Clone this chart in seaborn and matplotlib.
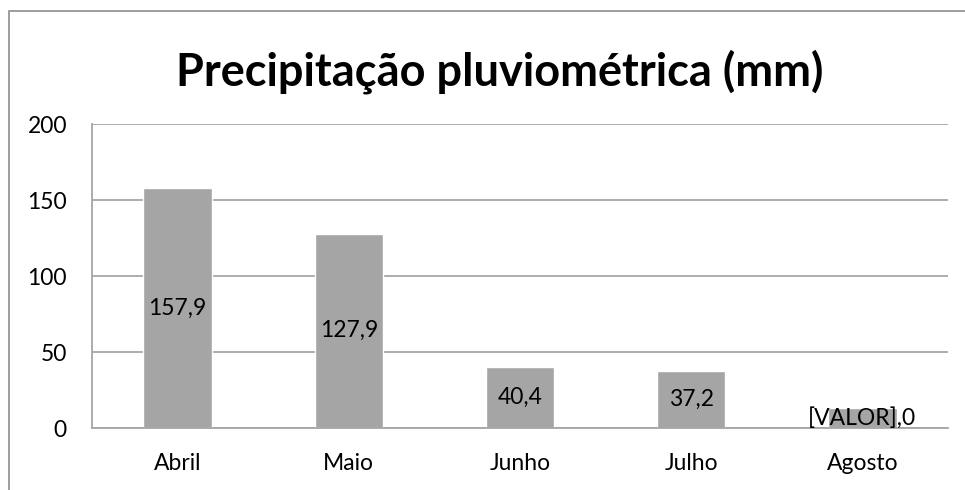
import matplotlib
matplotlib.use('Agg')
import matplotlib.pyplot as plt
import seaborn as sns
import pandas as pd
from matplotlib.patches import Rectangle

# dados
meses = ['Abril', 'Maio', 'Junho', 'Julho', 'Agosto']
precip = [157.9, 127.9, 40.4, 37.2, 13.0]
rotulos = ['157,9', '127,9', '40,4', '37,2', '[VALOR],0']
y_ticks = [0, 50, 100, 150, 200]

df = pd.DataFrame({'mes': meses, 'mm': precip})

sns.set_style('white')
plt.rcParams['font.family'] = ['Lato', 'DejaVu Sans']

fig = plt.figure(figsize=(9.65, 4.9), dpi=100)
ax = fig.add_axes([92 / 965, 1 - 428 / 490, (948 - 92) / 965, (428 - 124) / 490])

sns.barplot(data=df, x='mes', y='mm', color='#a5a5a5', width=0.4,
            saturation=1, ax=ax, zorder=2)

ax.set_ylim(0, 200)
ax.set_yticks(y_ticks)
ax.yaxis.grid(True, color='#a6a6a6', linewidth=1.3, zorder=0)
ax.set_axisbelow(True)
for s in ['top', 'right']:
    ax.spines[s].set_visible(False)
for s in ['left', 'bottom']:
    ax.spines[s].set_color('#a6a6a6')
    ax.spines[s].set_linewidth(1.3)
ax.tick_params(axis='both', length=0, labelsize=16.5, colors='black')
ax.tick_params(axis='y', pad=18)
ax.tick_params(axis='x', pad=18)
ax.set_xlabel('')
ax.set_ylabel('')

# rotulos de dados no centro das barras
for i, (v, lab) in enumerate(zip(precip, rotulos)):
    ax.text(i, v / 2, lab, ha='center', va='center', fontsize=16.5,
            color='black', zorder=3)

fig.text(500 / 965, 1 - 72 / 490, 'Precipitação pluviométrica (mm)', ha='center',
         va='center', fontsize=32.5, fontweight='bold', color='black')

# moldura do grafico
fig.patches.append(Rectangle((9 / 965, -0.1), 1.0, 1.1 - 11 / 490,
                             transform=fig.transFigure, fill=False,
                             edgecolor='#8c8c8c', linewidth=1.2))

fig.savefig('out.png', dpi=100)
